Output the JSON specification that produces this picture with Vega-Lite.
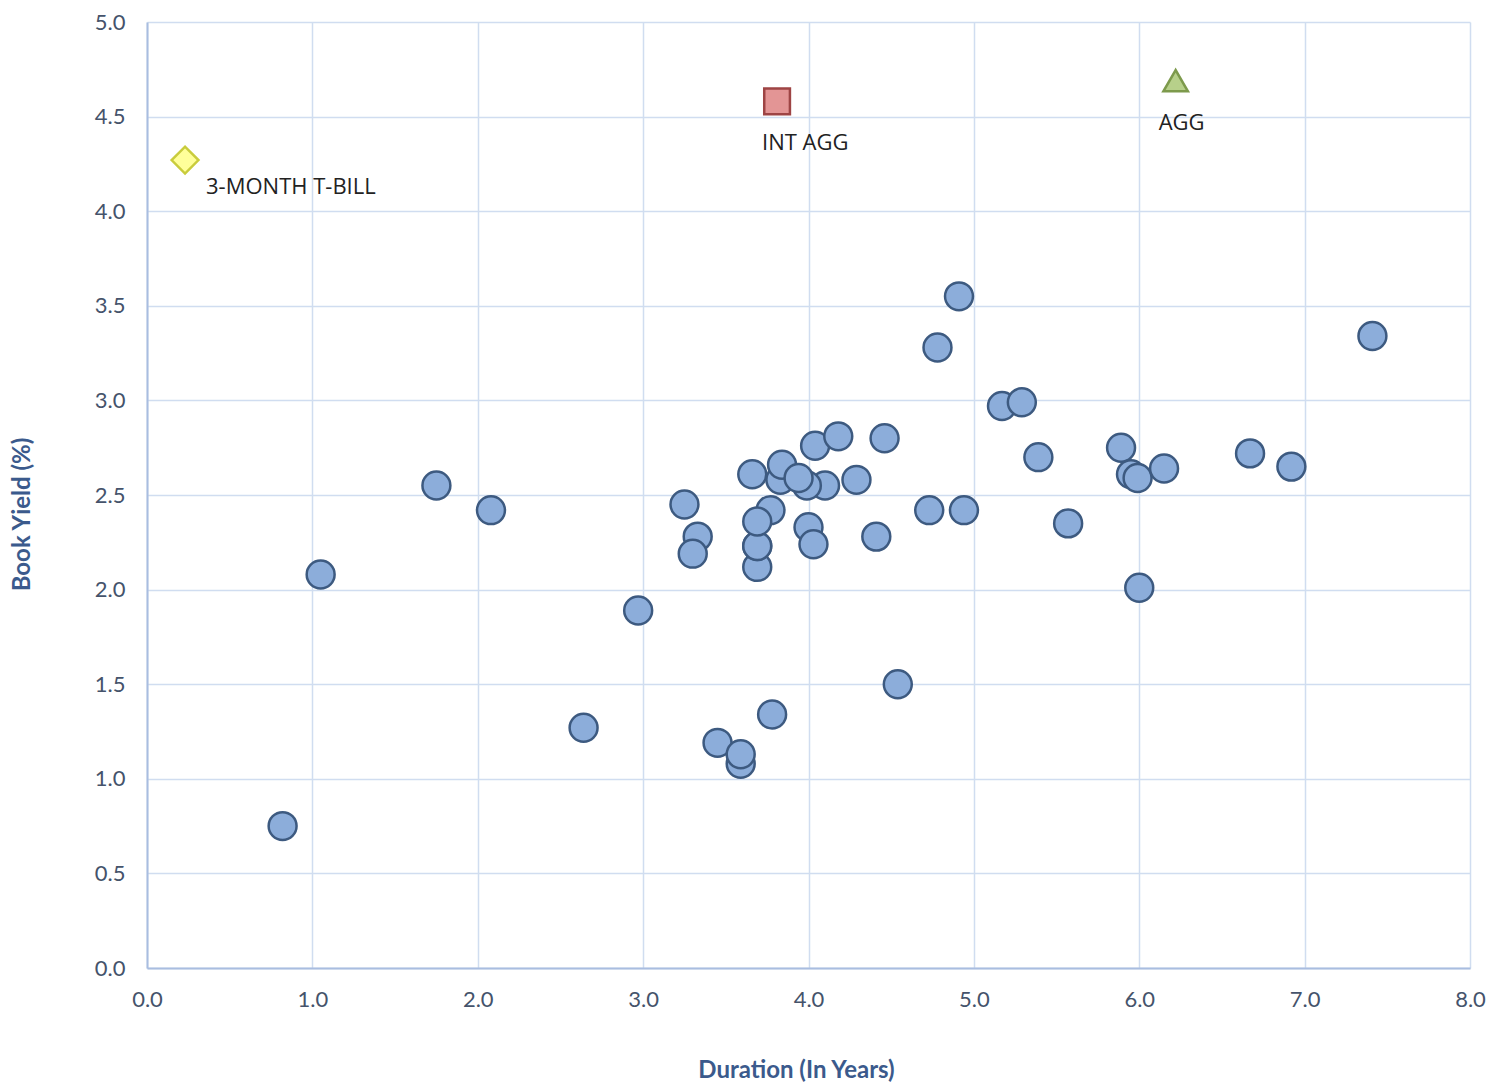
{
  "$schema": "https://vega.github.io/schema/vega-lite/v6.json",
  "autosize": "none",
  "width": 1323,
  "height": 946,
  "padding": {"left": 147, "top": 22, "right": 23, "bottom": 116},
  "background": "white",
  "config": {
    "view": {"stroke": null},
    "font": "Lato",
    "axis": {
      "grid": true,
      "gridColor": "#d0ddf0",
      "gridWidth": 1.5,
      "domainColor": "#a9bde0",
      "domainWidth": 2,
      "ticks": false,
      "labelFlush": false,
      "labelFont": "Lato",
      "labelFontSize": 22,
      "labelColor": "#45536b",
      "titleFont": "Lato",
      "titleFontSize": 24,
      "titleFontWeight": "bold",
      "titleColor": "#3b5a8c"
    }
  },
  "data": {
    "values": [
      {"name": "", "kind": "fund", "duration": 0.82, "yield": 0.75},
      {"name": "", "kind": "fund", "duration": 1.05, "yield": 2.08},
      {"name": "", "kind": "fund", "duration": 1.75, "yield": 2.55},
      {"name": "", "kind": "fund", "duration": 2.08, "yield": 2.42},
      {"name": "", "kind": "fund", "duration": 2.64, "yield": 1.27},
      {"name": "", "kind": "fund", "duration": 2.97, "yield": 1.89},
      {"name": "", "kind": "fund", "duration": 3.25, "yield": 2.45},
      {"name": "", "kind": "fund", "duration": 3.33, "yield": 2.28},
      {"name": "", "kind": "fund", "duration": 3.30, "yield": 2.19},
      {"name": "", "kind": "fund", "duration": 3.45, "yield": 1.19},
      {"name": "", "kind": "fund", "duration": 3.59, "yield": 1.08},
      {"name": "", "kind": "fund", "duration": 3.59, "yield": 1.13},
      {"name": "", "kind": "fund", "duration": 3.66, "yield": 2.61},
      {"name": "", "kind": "fund", "duration": 3.78, "yield": 1.34},
      {"name": "", "kind": "fund", "duration": 3.77, "yield": 2.42},
      {"name": "", "kind": "fund", "duration": 3.69, "yield": 2.12},
      {"name": "", "kind": "fund", "duration": 3.69, "yield": 2.23},
      {"name": "", "kind": "fund", "duration": 3.69, "yield": 2.23},
      {"name": "", "kind": "fund", "duration": 3.69, "yield": 2.36},
      {"name": "", "kind": "fund", "duration": 3.83, "yield": 2.58},
      {"name": "", "kind": "fund", "duration": 3.84, "yield": 2.66},
      {"name": "", "kind": "fund", "duration": 4.10, "yield": 2.55},
      {"name": "", "kind": "fund", "duration": 3.99, "yield": 2.55},
      {"name": "", "kind": "fund", "duration": 3.94, "yield": 2.59},
      {"name": "", "kind": "fund", "duration": 4.04, "yield": 2.76},
      {"name": "", "kind": "fund", "duration": 4.18, "yield": 2.81},
      {"name": "", "kind": "fund", "duration": 4.00, "yield": 2.33},
      {"name": "", "kind": "fund", "duration": 4.03, "yield": 2.24},
      {"name": "", "kind": "fund", "duration": 4.29, "yield": 2.58},
      {"name": "", "kind": "fund", "duration": 4.46, "yield": 2.80},
      {"name": "", "kind": "fund", "duration": 4.41, "yield": 2.28},
      {"name": "", "kind": "fund", "duration": 4.54, "yield": 1.50},
      {"name": "", "kind": "fund", "duration": 4.78, "yield": 3.28},
      {"name": "", "kind": "fund", "duration": 4.91, "yield": 3.55},
      {"name": "", "kind": "fund", "duration": 4.73, "yield": 2.42},
      {"name": "", "kind": "fund", "duration": 4.94, "yield": 2.42},
      {"name": "", "kind": "fund", "duration": 5.17, "yield": 2.97},
      {"name": "", "kind": "fund", "duration": 5.29, "yield": 2.99},
      {"name": "", "kind": "fund", "duration": 5.39, "yield": 2.70},
      {"name": "", "kind": "fund", "duration": 5.57, "yield": 2.35},
      {"name": "", "kind": "fund", "duration": 5.89, "yield": 2.75},
      {"name": "", "kind": "fund", "duration": 5.95, "yield": 2.61},
      {"name": "", "kind": "fund", "duration": 5.99, "yield": 2.59},
      {"name": "", "kind": "fund", "duration": 6.15, "yield": 2.64},
      {"name": "", "kind": "fund", "duration": 6.00, "yield": 2.01},
      {"name": "", "kind": "fund", "duration": 6.67, "yield": 2.72},
      {"name": "", "kind": "fund", "duration": 6.92, "yield": 2.65},
      {"name": "", "kind": "fund", "duration": 7.41, "yield": 3.34},
      {"name": "3-MONTH T-BILL", "kind": "tbill", "duration": 0.23, "yield": 4.27},
      {"name": "INT AGG", "kind": "intagg", "duration": 3.81, "yield": 4.58},
      {"name": "AGG", "kind": "agg", "duration": 6.22, "yield": 4.69}
    ]
  },
  "encoding": {
    "x": {
      "field": "duration",
      "type": "quantitative",
      "title": "Duration (In Years)",
      "scale": {"domain": [0, 8], "nice": false},
      "axis": {
        "values": [0, 1, 2, 3, 4, 5, 6, 7, 8],
        "format": ".1f",
        "labelPadding": 21,
        "titleX": 649,
        "titleY": 102,
        "titleBaseline": "middle"
      }
    },
    "y": {
      "field": "yield",
      "type": "quantitative",
      "title": "Book Yield (%)",
      "scale": {"domain": [0, 5], "nice": false},
      "axis": {
        "values": [0, 0.5, 1, 1.5, 2, 2.5, 3, 3.5, 4, 4.5, 5],
        "format": ".1f",
        "labelPadding": 22,
        "titleX": -125,
        "titleY": 492,
        "titleAngle": -90,
        "titleAlign": "center",
        "titleBaseline": "middle"
      }
    }
  },
  "layer": [
    {
      "mark": {"type": "point", "filled": true, "opacity": 1, "strokeWidth": 2.5},
      "encoding": {
        "shape": {
          "field": "kind",
          "type": "nominal",
          "scale": {"domain": ["fund", "tbill", "intagg", "agg"], "range": ["circle", "diamond", "square", "triangle-up"]},
          "legend": null
        },
        "fill": {
          "field": "kind",
          "type": "nominal",
          "scale": {"domain": ["fund", "tbill", "intagg", "agg"], "range": ["#8cadda", "#ffff9a", "#e39595", "#b7d08a"]},
          "legend": null
        },
        "stroke": {
          "field": "kind",
          "type": "nominal",
          "scale": {"domain": ["fund", "tbill", "intagg", "agg"], "range": ["#3d5a80", "#c9cc3c", "#9e4444", "#7d9a4c"]},
          "legend": null
        },
        "size": {
          "field": "kind",
          "type": "nominal",
          "scale": {"domain": ["fund", "tbill", "intagg", "agg"], "range": [780, 600, 520, 700]},
          "legend": null
        }
      }
    },
    {
      "transform": [{"filter": "datum.kind == 'tbill'"}],
      "mark": {"type": "text", "align": "left", "baseline": "middle", "dx": 21, "dy": 27, "font": "Open Sans", "fontSize": 22, "color": "#222222"},
      "encoding": {"text": {"field": "name"}}
    },
    {
      "transform": [{"filter": "datum.kind == 'intagg'"}],
      "mark": {"type": "text", "align": "left", "baseline": "middle", "dx": -15, "dy": 42, "font": "Open Sans", "fontSize": 22, "color": "#222222"},
      "encoding": {"text": {"field": "name"}}
    },
    {
      "transform": [{"filter": "datum.kind == 'agg'"}],
      "mark": {"type": "text", "align": "left", "baseline": "middle", "dx": -17, "dy": 42, "font": "Open Sans", "fontSize": 22, "color": "#222222"},
      "encoding": {"text": {"field": "name"}}
    }
  ]
}
